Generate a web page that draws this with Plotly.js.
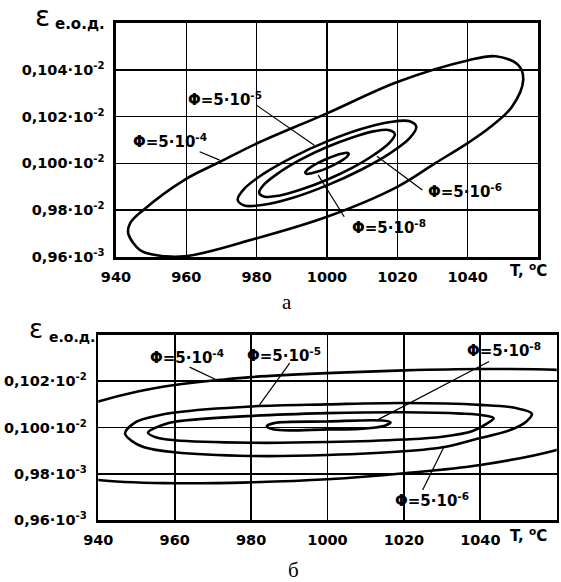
<!DOCTYPE html>
<html><head><meta charset="utf-8">
<script src="https://cdn.plot.ly/plotly-3.0.1.min.js"></script>
<style>body{margin:0;background:#fff}#chart{width:561px;height:582px}</style>
</head><body><div id="chart"></div>
<script>
// ---------- axis ticks ----------
var tempTicks = [940, 960, 980, 1000, 1020, 1040];
var tempTickText = ['940', '960', '980', '1000', '1020', '1040'];
var epsTicksA = [0.96, 0.98, 1.00, 1.02, 1.04];
var epsTickTextA = ['0,96·10<sup>-3</sup>', '0,98·10<sup>-2</sup>', '0,100·10<sup>-2</sup>', '0,102·10<sup>-2</sup>', '0,104·10<sup>-2</sup>'];
var epsTicksB = [0.96, 0.98, 1.00, 1.02];
var epsTickTextB = ['0,96·10<sup>-3</sup>', '0,98·10<sup>-3</sup>', '0,100·10<sup>-2</sup>', '0,102·10<sup>-2</sup>'];

// ---------- chart а: contour curves (T, ε·10^3) ----------
var a_F4_T = [943.5, 944.0, 947.7, 959.5, 969.5, 980, 1000, 1020, 1040, 1048, 1054.4, 1055.8, 1052.5, 1046, 1040, 1030.9, 1020, 1000, 980, 959.5, 950, 946.8, 943.5];
var a_F4_E = [0.970, 0.9744, 0.980, 0.993, 1.0006, 1.0085, 1.0214, 1.0348, 1.0440, 1.0458, 1.0420, 1.0357, 1.0240, 1.0150, 1.0087, 1.0002, 0.9900, 0.9772, 0.9680, 0.9603, 0.9612, 0.9630, 0.970];

var a_F5_T = [1025.4, 1023.5, 1018.0, 1009.7, 1000, 990.3, 982.0, 976.5, 974.6, 976.5, 982.0, 990.3, 1000, 1009.7, 1018.0, 1023.5, 1025.4];
var a_F5_E = [1.0156, 1.0180, 1.0177, 1.0147, 1.0094, 1.0027, 0.9956, 0.9892, 0.9844, 0.9820, 0.9823, 0.9853, 0.9906, 0.9973, 1.0044, 1.0108, 1.0156];

var a_F6_T = [1019.3, 1017.8, 1013.6, 1007.4, 1000, 992.6, 986.4, 982.2, 980.7, 982.2, 986.4, 992.6, 1000, 1007.4, 1013.6, 1017.8, 1019.3];
var a_F6_E = [1.0125, 1.0142, 1.0138, 1.0112, 1.0070, 1.0017, 0.9961, 0.9911, 0.9875, 0.9858, 0.9862, 0.9888, 0.9930, 0.9983, 1.0039, 1.0089, 1.0125];

var a_F8_T = [1006.2, 1005.7, 1004.4, 1002.4, 1000, 997.6, 995.6, 994.3, 993.8, 994.3, 995.6, 997.6, 1000, 1002.4, 1004.4, 1005.7, 1006.2];
var a_F8_E = [1.0040, 1.0045, 1.0042, 1.0034, 1.0020, 1.0003, 0.9986, 0.9971, 0.9960, 0.9955, 0.9958, 0.9966, 0.9980, 0.9997, 1.0014, 1.0029, 1.0040];

// ---------- chart б: contour curves ----------
var b_F4_T = [924, 927, 933, 940, 950, 960, 972, 980, 1000, 1020, 1040, 1060, 1072, 1080, 1085, 1083, 1075, 1060, 1040, 1020, 1000, 980, 960, 940, 930, 925, 924];
var b_F4_E = [0.990, 1.0005, 1.0070, 1.0112, 1.0155, 1.0184, 1.0206, 1.0218, 1.0235, 1.0247, 1.0253, 1.0249, 1.0235, 1.0205, 1.0150, 1.0080, 0.9990, 0.9903, 0.9838, 0.9802, 0.9776, 0.9763, 0.9759, 0.9773, 0.9810, 0.9850, 0.990];

var b_F5_T = [947, 950, 955, 960, 980, 1000, 1020, 1040, 1049, 1053.5, 1052, 1048, 1038, 1031, 1020, 1000, 980, 960, 952, 948.5, 947];
var b_F5_E = [0.9975, 1.0025, 1.0050, 1.0065, 1.0091, 1.0100, 1.0106, 1.0098, 1.0085, 1.0060, 1.0025, 0.9990, 0.9946, 0.9917, 0.9897, 0.9881, 0.9877, 0.9893, 0.9915, 0.9945, 0.9975];

var b_F6_T = [953, 957, 960, 980, 1000, 1020, 1035, 1041, 1043.5, 1042, 1038, 1030, 1020, 1000, 980, 960, 955, 953];
var b_F6_E = [0.9978, 1.0012, 1.0025, 1.0050, 1.0062, 1.0066, 1.0060, 1.0052, 1.0040, 1.0020, 0.9985, 0.9960, 0.9948, 0.9937, 0.9934, 0.9945, 0.9958, 0.9978];

var b_F8_T = [984.1, 986, 1000, 1014.4, 1016.5, 1015, 1008.3, 1000, 986, 984.1];
var b_F8_E = [1.0005, 1.0019, 1.0026, 1.0030, 1.0022, 1.0008, 0.9994, 0.9992, 0.9991, 1.0005];

// ---------- curve labels: text position and leader line (tail -> tip) ----------
var labelsA = ['Φ=5·10<sup>-5</sup>', 'Φ=5·10<sup>-4</sup>', 'Φ=5·10<sup>-6</sup>', 'Φ=5·10<sup>-8</sup>'];
var labelA_T = [970.9, 955.3, 1039.2, 1017.6];
var labelA_E = [1.0275, 1.0095, 0.9882, 0.9728];
var leaderA_T0 = [979.9, 963.8, 1027.1, 1004.9];
var leaderA_E0 = [1.0249, 1.0050, 0.9886, 0.9772];
var leaderA_T1 = [996.4, 969.5, 1014.2, 997.5];
var leaderA_E1 = [1.0078, 1.0014, 1.0031, 0.9950];

var labelsB = ['Φ=5·10<sup>-4</sup>', 'Φ=5·10<sup>-5</sup>', 'Φ=5·10<sup>-8</sup>', 'Φ=5·10<sup>-6</sup>'];
var labelB_T = [963.3, 988.7, 1046.2, 1027.4];
var labelB_E = [1.0306, 1.0314, 1.0336, 0.9687];
var leaderB_T0 = [963.9, 990.1, 1042.3, 1024.9];
var leaderB_E0 = [1.0261, 1.0278, 1.0285, 0.9730];
var leaderB_T1 = [971.3, 982.2, 1013.1, 1030.5];
var leaderB_E1 = [1.0203, 1.0098, 1.0033, 0.9917];

// ---------- build ----------
var W = 561, H = 582;
function px(x) { return x / W; }
function py(y) { return 1 - y / H; }
var curveLine = {color: '#000', width: 2.6, shape: 'spline', smoothing: 1};
function curve(T, E, xa, ya) {
  return {x: T, y: E, xaxis: xa, yaxis: ya, type: 'scatter', mode: 'lines',
          line: curveLine, hoverinfo: 'skip', showlegend: false};
}
var traces = [
  curve(a_F4_T, a_F4_E, 'x', 'y'),
  curve(a_F5_T, a_F5_E, 'x', 'y'),
  curve(a_F6_T, a_F6_E, 'x', 'y'),
  curve(a_F8_T, a_F8_E, 'x', 'y'),
  curve(b_F4_T, b_F4_E, 'x2', 'y2'),
  curve(b_F5_T, b_F5_E, 'x2', 'y2'),
  curve(b_F6_T, b_F6_E, 'x2', 'y2'),
  curve(b_F8_T, b_F8_E, 'x2', 'y2')
];

var tickFontX = {family: 'DejaVu Sans', size: 14.5, color: '#000', weight: 'bold'};
var tickFontY = {family: 'DejaVu Sans', size: 14.5, color: '#000', weight: 'bold'};
function xAxis(domain, anchor) {
  return {domain: domain, anchor: anchor, range: [940, 1060], tickmode: 'array',
          tickvals: tempTicks, ticktext: tempTickText, tickfont: tickFontX,
          showgrid: true, gridcolor: '#000', gridwidth: 1.6, zeroline: false,
          showline: true, linecolor: '#000', linewidth: 2.6, mirror: true,
          ticks: '', ticklabelstandoff: 5, automargin: false, fixedrange: true};
}
function yAxis(domain, anchor, range, vals, text) {
  return {domain: domain, anchor: anchor, range: range, tickmode: 'array',
          tickvals: vals, ticktext: text, tickfont: tickFontY,
          showgrid: true, gridcolor: '#000', gridwidth: 1.6, zeroline: false,
          showline: true, linecolor: '#000', linewidth: 2.6, mirror: true,
          ticks: '', ticklabelstandoff: 6, automargin: false, fixedrange: true};
}

var annFont = {family: 'DejaVu Sans', size: 15, color: '#000', weight: 'bold'};
var annotations = [];
var shapes = [];
labelsA.forEach(function (t, i) {
  annotations.push({text: t, x: labelA_T[i], y: labelA_E[i], xref: 'x', yref: 'y',
                    showarrow: false, font: annFont, xanchor: 'center', yanchor: 'middle'});
  shapes.push({type: 'line', xref: 'x', yref: 'y', x0: leaderA_T0[i], y0: leaderA_E0[i],
               x1: leaderA_T1[i], y1: leaderA_E1[i], line: {color: '#000', width: 1.2}});
});
labelsB.forEach(function (t, i) {
  annotations.push({text: t, x: labelB_T[i], y: labelB_E[i], xref: 'x2', yref: 'y2',
                    showarrow: false, font: annFont, xanchor: 'center', yanchor: 'middle'});
  shapes.push({type: 'line', xref: 'x2', yref: 'y2', x0: leaderB_T0[i], y0: leaderB_E0[i],
               x1: leaderB_T1[i], y1: leaderB_E1[i], line: {color: '#000', width: 1.2}});
});

function paperText(text, x, y, font, xanchor) {
  annotations.push({text: text, x: px(x), y: py(y), xref: 'paper', yref: 'paper',
                    showarrow: false, font: font, xanchor: xanchor || 'center', yanchor: 'middle'});
}
var epsFont = {family: 'DejaVu Sans', size: 28, color: '#000'};
var unitFont = {family: 'DejaVu Sans', size: 15, color: '#000', weight: 'bold'};
var axFont = {family: 'DejaVu Sans', size: 15, color: '#000', weight: 'bold'};
var letterFont = {family: 'Liberation Serif', size: 21, color: '#000'};
paperText('ε', 42, 16, epsFont);
paperText('е.о.д.', 53, 24, unitFont, 'left');
paperText('T, <sup>o</sup>C', 508, 270, axFont, 'left');
paperText('а', 287, 302, letterFont);
paperText('ε', 36, 329, {family: 'DejaVu Sans', size: 26, color: '#000'});
paperText('е.о.д.', 47, 337, {family: 'DejaVu Sans', size: 14, color: '#000', weight: 'bold'}, 'left');
paperText('T, <sup>o</sup>C', 508, 535, axFont, 'left');
paperText('б', 293, 570, letterFont);

var layout = {
  width: W, height: H,
  margin: {l: 0, r: 0, t: 0, b: 0, pad: 0},
  paper_bgcolor: '#fff', plot_bgcolor: '#fff',
  showlegend: false,
  xaxis: xAxis([116 / W, 538 / W], 'y'),
  yaxis: yAxis([1 - 257 / H, 1 - 23 / H], 'x', [0.96, 1.06], epsTicksA, epsTickTextA),
  xaxis2: xAxis([98.3 / W, 556.7 / W], 'y2'),
  yaxis2: yAxis([1 - 520 / H, 1 - 335 / H], 'x2', [0.96, 1.04], epsTicksB, epsTickTextB),
  annotations: annotations,
  shapes: shapes
};
Plotly.newPlot('chart', traces, layout, {displayModeBar: false, staticPlot: true});
</script></body></html>
